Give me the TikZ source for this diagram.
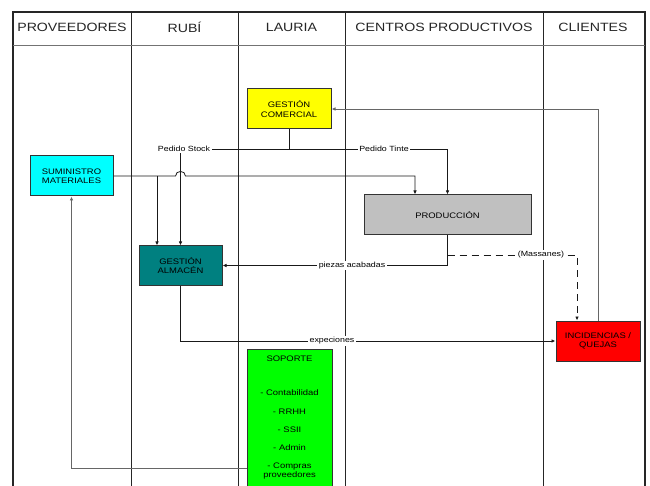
\documentclass[tikz,border=0pt]{standalone}
\usepackage{fontspec}
\setmainfont{Liberation Sans}[FakeStretch=1.18]
\usetikzlibrary{arrows.meta}
\definecolor{cyanbox}{RGB}{0,255,255}
\definecolor{yellowbox}{RGB}{255,255,0}
\definecolor{tealbox}{RGB}{0,128,128}
\definecolor{graybox}{RGB}{192,192,192}
\definecolor{redbox}{RGB}{255,0,0}
\definecolor{greenbox}{RGB}{0,255,0}
\begin{document}
\begin{tikzpicture}[x=1pt,y=-1pt,
  >={Latex[length=4pt,width=3.5pt]},
  lane/.style={draw=black!85, line width=0.9pt},
  box/.style={draw=black!80, line width=1pt, align=center, inner sep=1pt,
    font=\fontsize{8}{9.5}\selectfont, text=black},
  conn/.style={draw=black!90, line width=0.8pt},
  conngray/.style={draw=black!60, line width=0.9pt},
  lbl/.style={fill=white, inner sep=1.5pt, font=\fontsize{7.5}{9}\selectfont, text=black},
  hdr/.style={font=\fontsize{12}{14}\selectfont, text=black!85}]
\useasboundingbox (0,0) rectangle (650,486);
\clip (0,0) rectangle (650,486);
\fill[white] (0,0) rectangle (650,486);

% swimlanes
\foreach \x in {131,238,345,543} \draw[lane] (\x,12) -- (\x,486);
\draw[lane, line width=1.3pt] (13,486) -- (13,12) -- (645,12);
\draw[lane, line width=1.8pt] (645,11.4) -- (645,486);
\draw[draw=black!55, line width=0.9pt] (13,45) -- (645,45);

\node[hdr] (h1) at (72,27) {PROVEEDORES};
\node[hdr] (h2) at (184.5,27) {RUBÍ};
\node[hdr] (h3) at (291.5,27) {LAURIA};
\node[hdr] (h4) at (444,27) {CENTROS PRODUCTIVOS};
\node[hdr] (h5) at (593,27) {CLIENTES};

% boxes
\node[box, fill=yellowbox, minimum width=84pt, minimum height=40pt] (gc) at (289,109) {GESTIÓN\\COMERCIAL};
\node[box, fill=cyanbox, minimum width=83pt, minimum height=40pt] (sum) at (71.5,176) {SUMINISTRO\\MATERIALES};
\node[box, fill=tealbox, minimum width=83pt, minimum height=39pt] (alm) at (180.5,265.5) {GESTIÓN\\ALMACÉN};
\node[box, fill=graybox, minimum width=167pt, minimum height=40pt] (prod) at (447.5,215) {PRODUCCIÓN};
\node[box, fill=redbox, minimum width=84pt, minimum height=40pt] (inc) at (598,341) {INCIDENCIAS /\\QUEJAS};
\node[box, fill=greenbox, minimum width=85pt, minimum height=160pt, anchor=north] (sop) at (289.5,349) {};
\node[anchor=north, align=center, inner sep=0pt, font=\fontsize{8}{9}\selectfont, text=black] (soptxt) at ([yshift=-7pt]sop.north)
  {SOPORTE\\[25pt]- Contabilidad\\[10pt]- RRHH\\[9pt]- SSII\\[9pt]- Admin\\[9pt]- Compras\\proveedores};

% connectors
\draw[conn,->] (gc.south) -- ++(0,20) -| (prod.north);
\draw[conn,->] (gc.south) -- ++(0,20) -| (alm.north);
\draw[conn,->] (sum.east) -- ([xshift=-5pt]alm.north |- sum.east)
  .. controls +(0,-6) and +(0,-6) .. ([xshift=5pt]alm.north |- sum.east)
  -| ([xshift=-32.5pt]prod.north);
\draw[conn,->] ([xshift=-23.5pt]alm.north |- sum.east) -- ([xshift=-23.5pt]alm.north);
\draw[conn,->] (prod.south) |- (alm.east);
\draw[conn,dash pattern=on 7pt off 5pt,->] ([yshift=-20pt]prod.south) -| ([xshift=-21pt]inc.north);
\draw[conngray,->] (inc.north) |- (gc.east);
\draw[conn,->] (alm.south) |- (inc.west);
\draw[conngray,->] (sop.north west) ++(0,119) -| (sum.south);

% labels
\node[lbl] (l1) at (184,149) {Pedido Stock};
\node[lbl] (l2) at (384,149) {Pedido Tinte};
\node[lbl] (l3) at (352,265.5) {piezas acabadas};
\node[lbl] (l4) at (332,341) {expeciones};
\node[lbl] (l5) at (541,255) {(Massanes)};
\end{tikzpicture}
\end{document}
